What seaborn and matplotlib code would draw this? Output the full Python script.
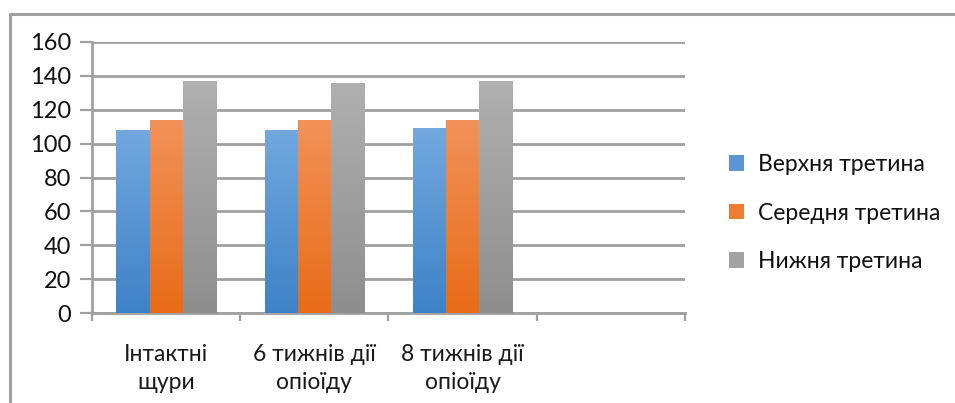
import numpy as np
import pandas as pd
import seaborn as sns
import matplotlib.pyplot as plt
from matplotlib.colors import LinearSegmentedColormap
from matplotlib.lines import Line2D

# Data
categories = ["Інтактні\nщури", "6 тижнів дії\nопіоїду", "8 тижнів дії\nопіоїду"]
series = ["Верхня третина", "Середня третина", "Нижня третина"]
upper = [108, 108, 109]
middle = [114, 114, 114]
lower = [137, 136, 137]
y_ticks = [0, 20, 40, 60, 80, 100, 120, 140, 160]

# Top / bottom shades of each series' gradient fill
grad_top = ["#72a8de", "#f2925a", "#b0b0b0"]
grad_bottom = ["#3f82c7", "#e86c18", "#8e8e8e"]
mid_col = ["#5a96d4", "#ee7d34", "#a2a2a2"]

sns.set_theme(style="white")
plt.rcParams["font.family"] = ["Lato", "Open Sans", "DejaVu Sans"]

df = pd.DataFrame({
    "category": categories * 3,
    "series": [s for s in series for _ in categories],
    "value": upper + middle + lower,
})

fig = plt.figure(figsize=(9.55, 4.03), dpi=100)
ax = fig.add_axes([0.0963, 0.2233, 0.6210, 0.6725])

sns.barplot(data=df, x="category", y="value", hue="series", order=categories,
            hue_order=series, palette=mid_col, width=0.67, gap=0,
            saturation=1, edgecolor="none", ax=ax, legend=True, zorder=3)

# Vertical gradient fill clipped to each bar
grad = np.linspace(1, 0, 256).reshape(-1, 1)
for container, top, bot in zip(ax.containers, grad_top, grad_bottom):
    cmap = LinearSegmentedColormap.from_list("g", [bot, top])
    for bar in container:
        x0, y0 = bar.get_x(), bar.get_y()
        w, h = bar.get_width(), bar.get_height()
        im = ax.imshow(grad, extent=[x0, x0 + w, y0, y0 + h], cmap=cmap,
                       aspect="auto", zorder=3.5, origin="upper",
                       interpolation="bilinear")
        im.set_clip_path(bar)

ax.set_xlim(-0.5, 3.5)
ax.set_ylim(0, 160)
ax.set_yticks(y_ticks)
ax.set_xlabel("")
ax.set_ylabel("")

# Category boundaries carry the tick marks, labels sit at category centres
ax.set_xticks([-0.5, 0.5, 1.5, 2.5, 3.5])
ax.set_xticklabels([])
ax.set_xticks([0, 1, 2], minor=True)
ax.set_xticklabels(categories, minor=True, fontsize=16.5, color="#1a1a1a",
                   linespacing=1.45)
ax.tick_params(axis="x", which="minor", length=0, pad=22)
ax.tick_params(axis="x", which="major", direction="out", length=6, width=1.6,
               color="#a0a0a0", bottom=True)
ax.tick_params(axis="y", direction="out", length=9, width=1.6,
               color="#a0a0a0", left=True, labelsize=17, labelcolor="#111111",
               pad=6)

ax.yaxis.grid(True, color="#a0a0a0", linewidth=2.0, zorder=0)
ax.set_axisbelow(True)
for side in ["top", "right"]:
    ax.spines[side].set_visible(False)
for side in ["left", "bottom"]:
    ax.spines[side].set_color("#a0a0a0")
    ax.spines[side].set_linewidth(2.0)

# Legend on the right
handles, labels = ax.get_legend_handles_labels()
ax.legend(handles, labels, loc="center left", bbox_to_anchor=(1.04, 0.369),
          frameon=False, fontsize=16.5, labelcolor="#111111",
          handlelength=0.65, handleheight=0.65, handletextpad=0.6,
          labelspacing=1.2)

# Chart-area border (top and left edges)
fig.add_artist(Line2D([9.5 / 955, 1.0], [1 - 14 / 403, 1 - 14 / 403],
                      transform=fig.transFigure, color="#a0a0a0", linewidth=2.2))
fig.add_artist(Line2D([9.5 / 955, 9.5 / 955], [0, 1 - 14 / 403],
                      transform=fig.transFigure, color="#a0a0a0", linewidth=2.2))

fig.savefig("out.png", dpi=100, facecolor="white")
